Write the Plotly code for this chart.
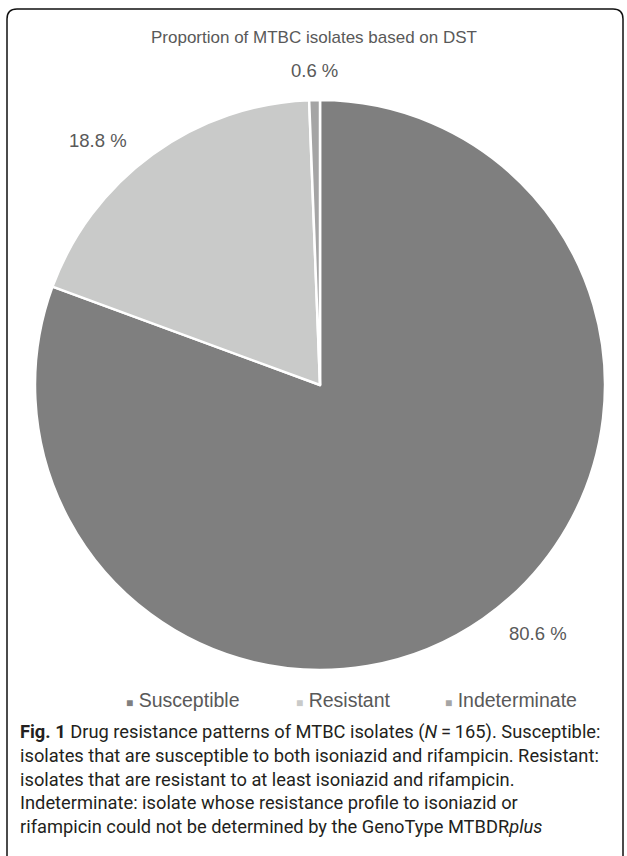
import math
import plotly.graph_objects as go

# ---- data ----
categories = ["Susceptible", "Resistant", "Indeterminate"]
counts = [133, 31, 1]
colors = ["#7f7f7f", "#c9cac9", "#a5a5a5"]
title_text = "Proportion of MTBC isolates based on DST"
caption_lines = [
    "<b>Fig. 1</b> Drug resistance patterns of MTBC isolates (<i>N</i>\u2009=\u2009165). Susceptible:",
    "isolates that are susceptible to both isoniazid and rifampicin. Resistant:",
    "isolates that are resistant to at least isoniazid and rifampicin.",
    "Indeterminate: isolate whose resistance profile to isoniazid or",
    "rifampicin could not be determined by the GenoType MTBDR<i>plus</i>",
]

W, H = 627, 856
CX, CY, R = 320, 385, 285
FONT = "Liberation Sans, Arial, sans-serif"
CAP_FONT = "Roboto, Liberation Sans, sans-serif"
GRAY = "#595959"


def px(x):
    return x / W


def py(y):
    return 1 - y / H


fig = go.Figure()
fig.add_trace(go.Pie(
    labels=categories,
    values=counts,
    sort=False,
    direction="clockwise",
    rotation=0,
    marker=dict(colors=colors, line=dict(color="white", width=2.5)),
    textinfo="none",
    hoverinfo="label+percent",
    showlegend=False,
    domain=dict(x=[px(CX - R), px(CX + R)], y=[py(CY + R), py(CY - R)]),
))

annotations = []
# percentage labels outside slices
total = sum(counts)
cum = 0
for v in counts:
    mid = (cum + v / 2) / total * 2 * math.pi
    cum += v
    s, c = math.sin(mid), math.cos(mid)
    a = mid
    if abs(s) > 0.2:
        a = mid + math.radians(3.5) * (1 if c > 0 else -1) * (1 if s > 0 else -1)
    s2, c2 = math.sin(a), math.cos(a)
    rr = R + 12 + 5 * abs(c2)
    x = CX + rr * s2
    y = CY - rr * c2
    xanchor = "center" if abs(s2) < 0.2 else ("left" if s2 > 0 else "right")
    yanchor = "bottom" if c2 > 0 else "top"
    annotations.append(dict(
        x=px(x), y=py(y), xref="paper", yref="paper",
        text=f"{v / total * 100:.1f} %", showarrow=False,
        xanchor=xanchor, yanchor=yanchor,
        font=dict(family=FONT, size=18.5, color=GRAY),
    ))

# title
annotations.append(dict(
    x=px(314), y=py(37), xref="paper", yref="paper", text=title_text,
    showarrow=False, xanchor="center", yanchor="middle",
    font=dict(family=FONT, size=17, color=GRAY),
))

# legend
legend_x = [124, 294, 443]
for lab, col, lx in zip(categories, colors, legend_x):
    annotations.append(dict(
        x=px(lx), y=py(700), xref="paper", yref="paper",
        text=f"<span style='color:{col};font-size:12px'>\u25a0</span> {lab}",
        showarrow=False, xanchor="left", yanchor="middle",
        font=dict(family=FONT, size=19.5, color=GRAY),
    ))

# caption
for i, line in enumerate(caption_lines):
    annotations.append(dict(
        x=px(18), y=py(732 + i * 23.6), xref="paper", yref="paper",
        text=line, showarrow=False, xanchor="left", yanchor="middle",
        font=dict(family=CAP_FONT, size=18.3, color="#231f20"),
    ))

# rounded border
x0, x1, y0, y1, rc = 7, 623, 9, 866, 10
path = (
    f"M {px(x0 + rc)},{py(y0)} L {px(x1 - rc)},{py(y0)} "
    f"Q {px(x1)},{py(y0)} {px(x1)},{py(y0 + rc)} "
    f"L {px(x1)},{py(y1 - rc)} Q {px(x1)},{py(y1)} {px(x1 - rc)},{py(y1)} "
    f"L {px(x0 + rc)},{py(y1)} Q {px(x0)},{py(y1)} {px(x0)},{py(y1 - rc)} "
    f"L {px(x0)},{py(y0 + rc)} Q {px(x0)},{py(y0)} {px(x0 + rc)},{py(y0)} Z"
)

fig.update_layout(
    width=W, height=H,
    margin=dict(l=0, r=0, t=0, b=0),
    paper_bgcolor="white", plot_bgcolor="white",
    annotations=annotations,
    shapes=[dict(type="path", path=path, xref="paper", yref="paper",
                 line=dict(color="#111111", width=1.5))],
)

fig.write_html("out.html")
